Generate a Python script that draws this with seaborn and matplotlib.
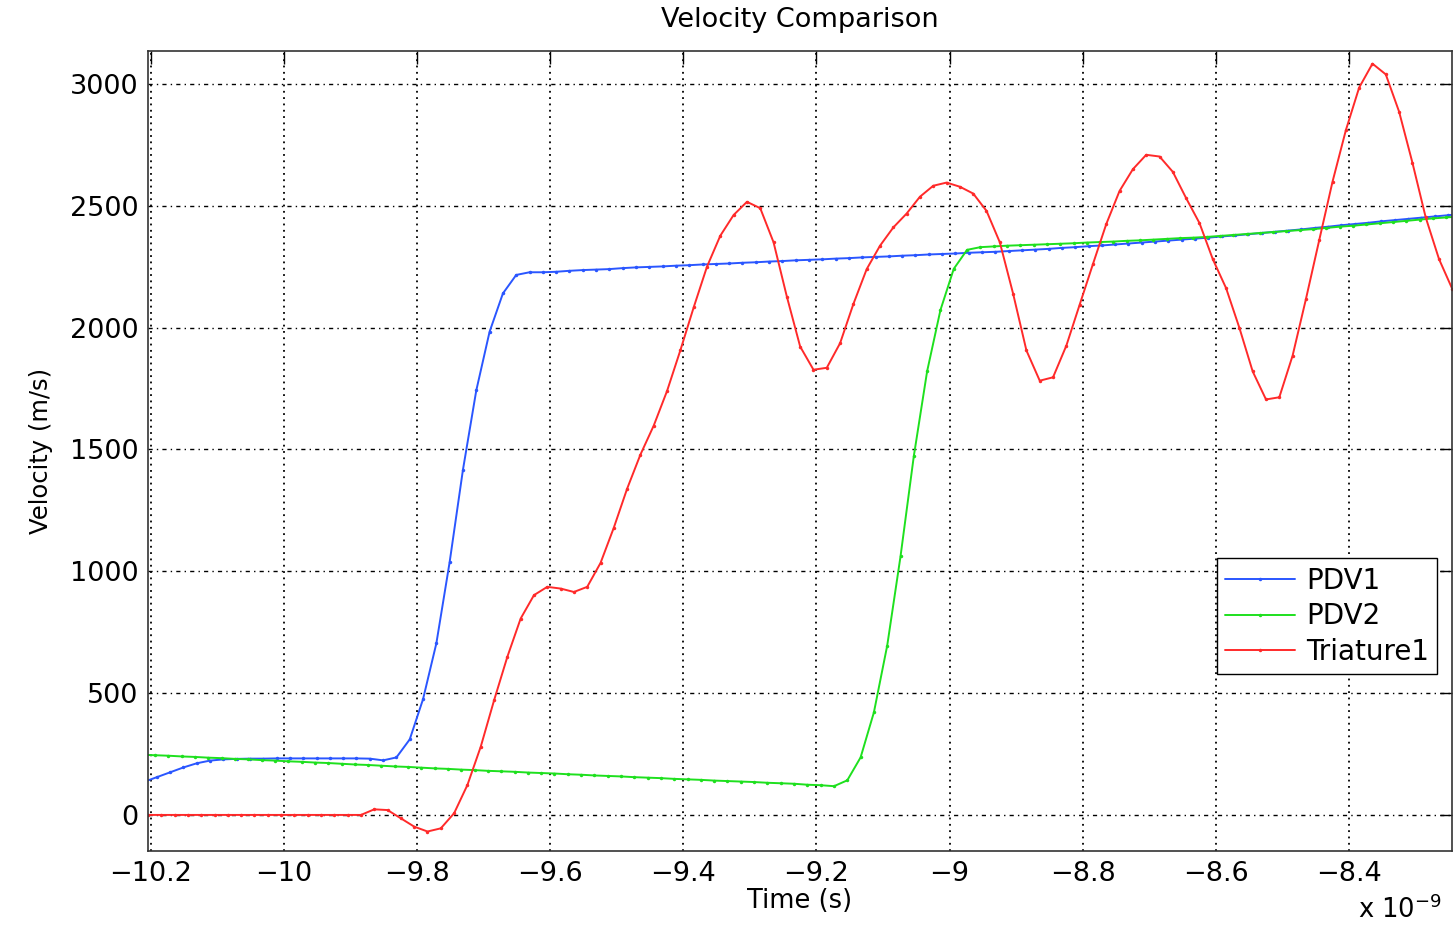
import numpy as np
import pandas as pd
import seaborn as sns
import matplotlib.pyplot as plt
from matplotlib.ticker import FuncFormatter


# sampling of the traces (time in units of 1e-9 s)
STEP = 0.02
RED_START = -10.2045
BLUE_START = -10.2112
GREEN_START = -10.2137

pdv1 = [135, 155, 175, 195, 212, 223, 228, 230, 231, 231,
        232, 232, 232, 232, 232, 232, 232, 231, 224, 236,
        310, 475, 704, 1038, 1417, 1742, 1983, 2140, 2216, 2227,
        2227, 2229, 2233, 2236, 2238, 2240, 2244, 2247, 2249, 2251,
        2254, 2256, 2259, 2261, 2263, 2266, 2268, 2271, 2273, 2276,
        2278, 2280, 2283, 2285, 2288, 2290, 2292, 2295, 2297, 2300,
        2302, 2304, 2307, 2309, 2311, 2314, 2317, 2320, 2323, 2327,
        2330, 2334, 2337, 2341, 2345, 2349, 2353, 2357, 2361, 2365,
        2369, 2374, 2378, 2383, 2388, 2393, 2398, 2403, 2409, 2414,
        2420, 2425, 2430, 2436, 2441, 2446, 2451, 2456, 2461, 2466]

pdv2 = [247, 245, 243, 240, 238, 235, 233, 230, 228, 225,
        223, 220, 218, 215, 213, 210, 207, 205, 202, 199,
        197, 194, 191, 189, 186, 184, 181, 179, 177, 174,
        172, 170, 167, 165, 162, 160, 158, 155, 153, 151,
        148, 146, 144, 141, 139, 137, 135, 132, 130, 128,
        124, 122, 118, 142, 236, 421, 695, 1061, 1473, 1821,
        2072, 2241, 2319, 2330, 2333, 2336, 2338, 2340, 2342, 2344,
        2346, 2349, 2351, 2353, 2356, 2358, 2361, 2364, 2367, 2369,
        2372, 2376, 2380, 2384, 2388, 2392, 2396, 2400, 2404, 2409,
        2414, 2418, 2423, 2428, 2433, 2438, 2443, 2448, 2452, 2456]

triature1 = [0, 0, 0, 0, 0, 0, 0, 0, 0, 0,
             0, 0, 0, 0, 0, 0, 0, 23, 20, -14,
             -48, -68, -55, 7, 123, 280, 470, 649, 806, 902,
             936, 929, 915, 936, 1034, 1179, 1339, 1479, 1598, 1740,
             1907, 2083, 2250, 2377, 2462, 2516, 2490, 2350, 2127, 1922,
             1827, 1835, 1936, 2097, 2240, 2336, 2411, 2468, 2537, 2582,
             2595, 2578, 2550, 2479, 2350, 2139, 1906, 1782, 1796, 1926,
             2094, 2261, 2425, 2561, 2650, 2709, 2702, 2639, 2531, 2429,
             2281, 2162, 1999, 1820, 1705, 1714, 1885, 2117, 2359, 2599,
             2810, 2985, 3083, 3039, 2886, 2677, 2452, 2281, 2158]

series_names = ["PDV1", "PDV2", "Triature1"]
series_colors = ["#2a56ff", "#1ee01e", "#ff2a2a"]

x_ticks = [-10.2, -10, -9.8, -9.6, -9.4, -9.2, -9, -8.8, -8.6, -8.4]
y_ticks = [0, 500, 1000, 1500, 2000, 2500, 3000]


def trace(name, start, values):
    t = start + STEP * np.arange(len(values))
    return pd.DataFrame({"Time": t, "Velocity": values, "Series": name})


df = pd.concat([
    trace("PDV1", BLUE_START, pdv1),
    trace("PDV2", GREEN_START, pdv2),
    trace("Triature1", RED_START, triature1),
], ignore_index=True)

sns.set_style("white")
plt.rcParams["font.family"] = ["DejaVu Sans"]
plt.rcParams["mathtext.default"] = "regular"
plt.rcParams["text.color"] = "black"
plt.rcParams["axes.labelcolor"] = "black"

fig = plt.figure(figsize=(14.56, 9.26), dpi=100)
ax = fig.add_axes([148 / 1456, 1 - 851 / 926, 1304 / 1456, 800 / 926])

for name, color in zip(series_names, series_colors):
    sns.lineplot(data=df[df["Series"] == name], x="Time", y="Velocity",
                 color=color, label=name, marker=".", markersize=5,
                 markeredgewidth=0, markerfacecolor=color, linewidth=1.4,
                 estimator=None, sort=False, ax=ax)

ax.set_xlim(-10.2045, -8.245)
ax.set_ylim(-148, 3135)
ax.set_xticks(x_ticks)
ax.set_yticks(y_ticks)
ax.xaxis.set_major_formatter(FuncFormatter(lambda v, p: f"{v:g}".replace("-", "\u2212")))
ax.tick_params(direction="in", top=True, right=True, length=9, width=1,
               labelsize=19.5, pad=7, colors="black")

ax.xaxis.grid(True, color="black", linestyle=(0, (1, 2.5)), linewidth=1.3)
ax.yaxis.grid(True, color="black", linestyle=(0, (3, 3, 1, 3)), linewidth=1.0)
for s in ax.spines.values():
    s.set_color("#333333")
    s.set_linewidth(1.2)

ax.set_xlabel("Time (s)", fontsize=18.5, labelpad=1)
ax.set_ylabel("Velocity (m/s)", fontsize=17.5, labelpad=12)
fig.text(800 / 1456, 1 - 20 / 926, "Velocity Comparison", ha="center",
         va="center", fontsize=19.5)
fig.text(1358 / 1456, 1 - 910 / 926, r"x 10$^{-9}$", ha="left",
         va="center", fontsize=18.5)

leg = ax.legend(loc="upper left", bbox_to_anchor=(0.8198, 0.366), fontsize=20,
                frameon=True, fancybox=False, edgecolor="black",
                framealpha=1, handlelength=2.5, labelspacing=0.28,
                borderpad=0.3, handletextpad=0.4, borderaxespad=0)
leg.get_frame().set_linewidth(1.0)

fig.savefig("out.png", dpi=100)
